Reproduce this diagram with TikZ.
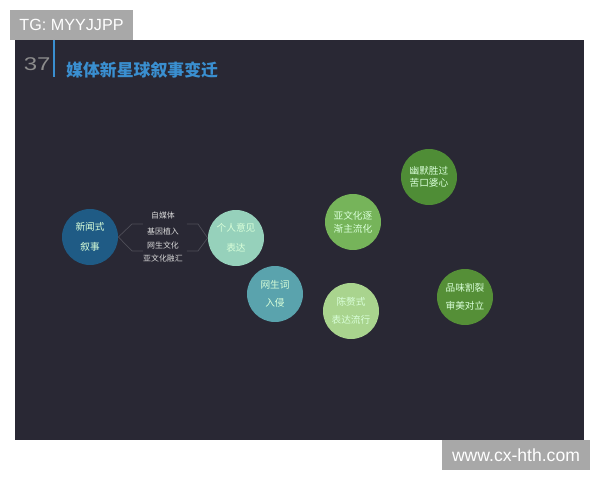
\documentclass[tikz,border=0pt]{standalone}
\usepackage{fontspec}
\setmainfont{Liberation Sans}
\newfontfamily\cjk{Noto Sans CJK SC}
\definecolor{panel}{HTML}{292834}
\definecolor{wmgray}{HTML}{A8A8A8}
\definecolor{titleblue}{HTML}{3A8FD0}
\definecolor{cnews}{HTML}{1F5B85}
\definecolor{cself}{HTML}{96D1BB}
\definecolor{cweb}{HTML}{5AA3AD}
\definecolor{csub}{HTML}{76B45A}
\definecolor{chumor}{HTML}{4F8D36}
\definecolor{cloose}{HTML}{A9D48E}
\definecolor{ctaste}{HTML}{558F37}
\definecolor{bracket}{HTML}{4E4E58}
\begin{document}
\begin{tikzpicture}[x=0.02cm,y=-0.02cm,
    bubble/.style={circle,minimum size=1.12cm,inner sep=0pt,align=center,
      text=white!85!green,font=\cjk\fontsize{5.5}{5.5}\selectfont},
    tag/.style={text=white!85!black,font=\cjk\fontsize{4.5}{5}\selectfont},
    brk/.style={draw=bracket,line width=0.4pt}]
  \useasboundingbox (0,0) rectangle (600,480);
  \fill[panel] (15,40) rectangle (584,440);
  % watermarks
  \fill[wmgray] (10,10) rectangle (133,40);
  \node[text=white,font=\fontsize{9.2}{10}\selectfont] (tg) at (71.5,25) {TG: MYYJJPP};
  \fill[wmgray] (442,440) rectangle (590,470);
  \node[text=white,font=\fontsize{10}{11}\selectfont] (site) at (516,455) {www.cx-hth.com};
  % title
  \draw[titleblue,line width=1pt] (54,40) -- (54,77);
  \node[anchor=east,inner sep=0pt,xscale=1.3,text=black!45,font=\fontsize{10.5}{10.5}\selectfont] (num) at (51,64) {37};
  \node[anchor=west,text=titleblue,font=\cjk\bfseries\fontsize{9.6}{10}\selectfont] (title) at (60,70) {媒体新星球叙事变迁};
  % bubbles
  \draw
    (90,237) node[bubble,fill=cnews] (news){新闻式\\[6pt]叙事}
    (236,238) node[bubble,fill=cself] (self){个人意见\\[6pt]表达}
    (275,294) node[bubble,fill=cweb] (web){网生词\\[5pt]入侵}
    (353,222) node[bubble,fill=csub] (sub){亚文化逐\\[2pt]渐主流化}
    (429,177) node[bubble,fill=chumor] (humor){幽默胜过\\[1.5pt]苦口婆心}
    (351,311) node[bubble,fill=cloose] (loose){陈赘式\\[4.5pt]表达流行}
    (465,297) node[bubble,fill=ctaste] (taste){品味割裂\\[5pt]审美对立};
  \draw
    (163,215) node[tag] (t1){自媒体}
    (163,231) node[tag] (t2){基因植入}
    (163,245) node[tag] (t3){网生文化}
    (163,258) node[tag] (t4){亚文化融汇};
  \coordinate (lu1) at (132,224);
  \coordinate (lu2) at (143,224);
  \coordinate (ld1) at (132,251);
  \coordinate (ld2) at (143,251);
  \coordinate (ru1) at (198,224);
  \coordinate (ru2) at (187,224);
  \coordinate (rd1) at (198,251);
  \coordinate (rd2) at (187,251);
  \begin{scope}[brk]
    \draw (news.east) -- (lu1) -- (lu2);
    \draw (news.east) -- (ld1) -- (ld2);
    \draw (self.west) -- (ru1) -- (ru2);
    \draw (self.west) -- (rd1) -- (rd2);
  \end{scope}
\end{tikzpicture}
\end{document}
